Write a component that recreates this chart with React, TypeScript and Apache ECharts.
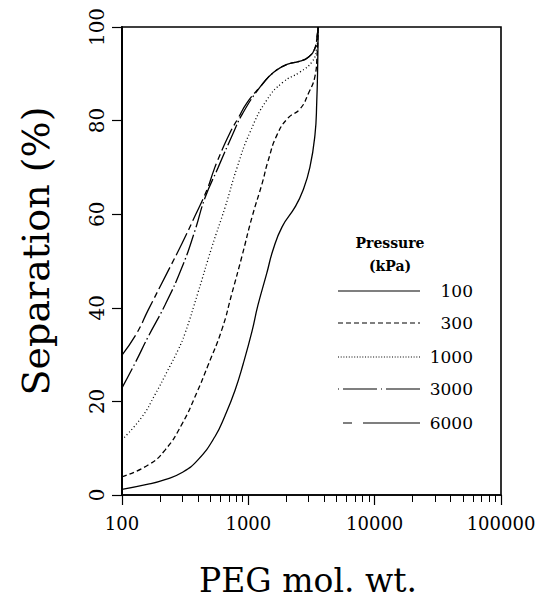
import React, { useEffect, useRef } from 'react';
import * as echarts from 'echarts';

// PEG molecular weight (x) vs separation % (y) for each pressure (kPa)
const pressures = ['100', '300', '1000', '3000', '6000'];

const p100: [number, number][] = [
  [100, 1.2], [161, 2.3], [219, 3.3], [299, 4.8], [399, 7.5], [545, 12.5], [655, 17],
  [785, 22.4], [910, 28], [1070, 35], [1190, 40.5], [1400, 47.4], [1570, 52.4], [1850, 57.3],
  [2340, 61.5], [2700, 65], [3070, 70], [3370, 77], [3480, 84], [3540, 92], [3570, 100],
];
const p300: [number, number][] = [
  [100, 3.9], [161, 6.4], [219, 9.6], [299, 15.2], [390, 21.8], [478, 27.6], [620, 35.5],
  [740, 43], [890, 51], [1070, 59.4], [1290, 66.7], [1430, 71.3], [1690, 77], [2070, 80.6],
  [2570, 82.5], [3000, 85.9], [3370, 89.5], [3500, 94], [3570, 100],
];
const p1000: [number, number][] = [
  [100, 11.8], [144, 16.7], [183, 21.5], [231, 26.7], [278, 31], [315, 34.5], [399, 43.2],
  [515, 53], [655, 61.5], [815, 70], [1030, 77.5], [1400, 84.4], [1880, 88.2], [2570, 90.4],
  [3180, 92.5], [3450, 95], [3570, 100],
];
const p3000: [number, number][] = [
  [100, 22.9], [127, 28.2], [161, 33.8], [219, 40.6], [299, 48.7], [378, 56.5], [454, 63.5],
  [575, 69.9], [755, 77.2], [900, 81.5], [1240, 87.2], [1570, 90.2],
  [2020, 92], [2570, 92.7], [3000, 93.6], [3370, 95.5], [3500, 98], [3570, 100],
];
const p6000: [number, number][] = [
  [100, 29.9], [131, 34.6], [161, 39.5], [227, 47.4], [299, 53.8], [378, 59.6], [470, 65.2],
  [530, 69.2], [565, 71.2], [716, 77.4], [830, 80.5], [975, 83.8], [1240, 87.2], [1570, 90.2],
  [2020, 92], [2570, 92.7], [3000, 93.6], [3370, 95.5], [3500, 98], [3570, 100],
];
const seriesData = [p100, p300, p1000, p3000, p6000];

const xTickLabels = [100, 1000, 10000, 100000];
const yTicks = [0, 20, 40, 60, 80, 100];
const minorTickValues = [2, 3, 4].flatMap((d) =>
  [2, 3, 4, 5, 6, 7, 8, 9].map((k) => Math.log10(k * Math.pow(10, d)))
);

const seriesDash: any[] = ['solid', [5, 3], [1, 2.5], [22, 3, 1.5, 3], [24, 4, 6, 4]];
const legendDash: any[] = [null, [5, 3], [1, 1.7], [1, 4, 34, 4], [9, 11, 57, 11]];
const legendLineStart = [338, 338, 338, 338, 343];
const legendRows = [291, 323, 357, 389, 423];

const FONT = "'DejaVu Serif', 'Liberation Serif', serif";

export default function App() {
  const ref = useRef<HTMLDivElement>(null);
  useEffect(() => {
    const chart = echarts.init(ref.current!, null, { renderer: 'svg' });
    const legendGraphics: any[] = [];
    pressures.forEach((p, i) => {
      legendGraphics.push({
        type: 'line',
        shape: { x1: legendLineStart[i], y1: legendRows[i], x2: 420, y2: legendRows[i] },
        style: { stroke: '#000', lineWidth: 1.2, lineDash: legendDash[i] || undefined },
      });
      legendGraphics.push({
        type: 'text',
        x: 473,
        y: legendRows[i],
        style: {
          text: p, font: `17px ${FONT}`, fill: '#000',
          textAlign: 'right', textVerticalAlign: 'middle',
        },
      });
    });
    const option: any = {
      animation: false,
      backgroundColor: '#fff',
      grid: {
        left: 122, right: 43, top: 27, bottom: 109,
        show: true, borderColor: '#000', borderWidth: 1.6, containLabel: false,
      },
      xAxis: [
        {
          type: 'log', logBase: 10, min: 100, max: 100000,
          axisLine: { show: true, lineStyle: { color: '#000', width: 1.6 } },
          axisTick: { show: true, inside: false, length: 10, lineStyle: { color: '#000', width: 1.2 } },
          axisLabel: {
            show: true, margin: 19, color: '#000', fontFamily: FONT, fontSize: 18,
            formatter: (v: number) => {
              const r = Math.round(v);
              return xTickLabels.indexOf(r) >= 0 ? String(r) : '';
            },
          },
          splitLine: { show: false },
          minorTick: { show: false },
        },
        {
          type: 'value', min: 2, max: 5, position: 'bottom', gridIndex: 0,
          axisLine: { show: false },
          axisTick: {
            show: true, inside: false, length: 7, customValues: minorTickValues,
            lineStyle: { color: '#000', width: 1 },
          },
          axisLabel: { show: false },
          splitLine: { show: false },
        },
      ],
      yAxis: {
        type: 'value', min: 0, max: 100, interval: 20,
        axisLine: { show: true, lineStyle: { color: '#000', width: 2 } },
        axisTick: { show: true, inside: false, length: 10, lineStyle: { color: '#000', width: 1.2 } },
        axisLabel: {
          show: true, rotate: 90, margin: 15, color: '#000', fontFamily: FONT, fontSize: 20,
          formatter: (v: number) => (yTicks.indexOf(v) >= 0 ? String(v) : ''),
        },
        splitLine: { show: false },
      },
      series: seriesData.map((d, i) => ({
        type: 'line',
        name: pressures[i],
        data: d,
        xAxisIndex: 0,
        smooth: 0.5,
        showSymbol: false,
        symbol: 'none',
        lineStyle: { color: '#000', width: 1.3, type: seriesDash[i] },
        z: 3,
      })),
      graphic: [
        {
          type: 'text', x: 36, y: 251, rotation: Math.PI / 2,
          style: {
            text: 'Separation (%)', font: `38px ${FONT}`, fill: '#000',
            textAlign: 'center', textVerticalAlign: 'middle',
          },
        },
        {
          type: 'text', x: 308, y: 580,
          style: {
            text: 'PEG mol. wt.', font: `33px ${FONT}`, fill: '#000',
            textAlign: 'center', textVerticalAlign: 'middle',
          },
        },
        {
          type: 'text', x: 390, y: 243,
          style: {
            text: 'Pressure', font: `bold 14px ${FONT}`, fill: '#000',
            textAlign: 'center', textVerticalAlign: 'middle',
          },
        },
        {
          type: 'text', x: 390, y: 266,
          style: {
            text: '(kPa)', font: `bold 14px ${FONT}`, fill: '#000',
            textAlign: 'center', textVerticalAlign: 'middle',
          },
        },
        ...legendGraphics,
      ],
    };
    chart.setOption(option);
    return () => chart.dispose();
  }, []);
  return (
    <div
      ref={ref}
      style={{ position: 'fixed', left: 0, top: 0, width: 544, height: 604, background: '#fff' }}
    />
  );
}
